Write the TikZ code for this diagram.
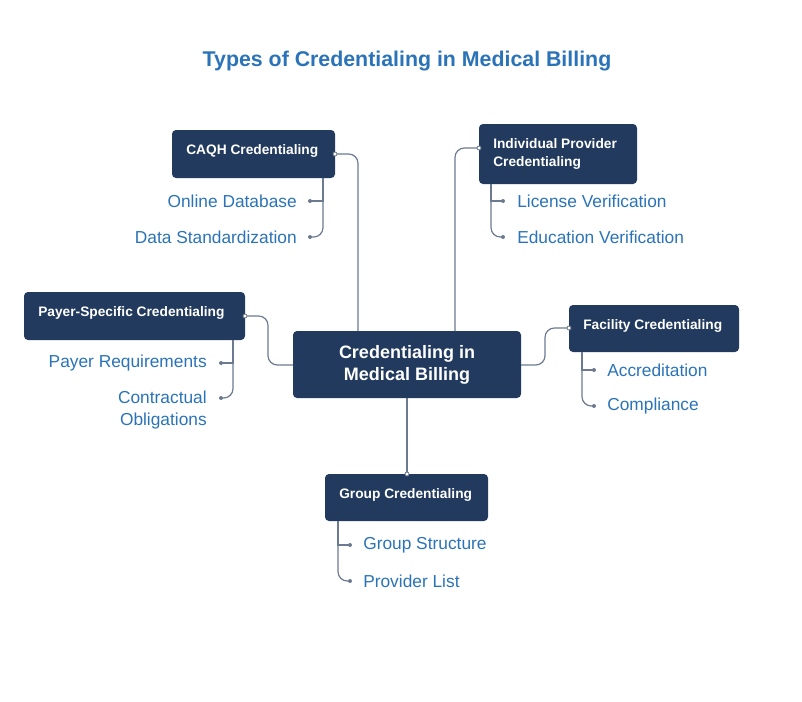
\documentclass[tikz,border=0pt]{standalone}
\usepackage{fontspec}
\setmainfont{Liberation Sans}
\definecolor{box}{HTML}{213A5E}
\definecolor{txt}{HTML}{2A73B8}
\definecolor{ln}{HTML}{6B7A90}
\begin{document}
\begin{tikzpicture}[x=0.75pt,y=-0.75pt,
 bx/.style={fill=box,rounded corners=3pt,text=white,font=\bfseries\fontsize{10.3}{12}\selectfont,align=left,inner sep=0pt},
 lf/.style={text=txt,font=\fontsize{13}{16}\selectfont,inner sep=0pt},
 cn/.style={draw=ln,line width=0.9pt,rounded corners=7pt},
 dt/.style={fill=ln,circle,inner sep=0pt,minimum size=3pt}]
\useasboundingbox (0,0) rectangle (802,701);
\node[text=txt,font=\bfseries\fontsize{16}{18}\selectfont] (t) at (407,61) {Types of Credentialing in Medical Billing};
% boxes
\path[bx] (172,130) rectangle (335,178); \node[bx,anchor=west] (caqh) at (186,151) {CAQH Credentialing};
\path[bx] (479,124) rectangle (637,184); \node[bx,anchor=west,font=\bfseries\fontsize{10.3}{13}\selectfont] (ind) at (493,154) {Individual Provider\\Credentialing};
\path[bx] (24,292) rectangle (245,340); \node[bx,anchor=west] (pay) at (38,313) {Payer-Specific Credentialing};
\path[bx] (293,331) rectangle (521,398); \node[bx,align=center,font=\bfseries\fontsize{13.5}{16.5}\selectfont] (c) at (407,365) {Credentialing in\\Medical Billing};
\path[bx] (569,305) rectangle (739,352); \node[bx,anchor=west] (fac) at (583,326) {Facility Credentialing};
\path[bx] (325,474) rectangle (488,521); \node[bx,anchor=west] (grp) at (339,495) {Group Credentialing};
% main connectors
\coordinate (a1) at (335,154); \coordinate (a2) at (358,331);
\draw[cn] (a1) -| (a2); \node[dt,fill=white,draw=ln,line width=0.6pt] at (a1) {};
\coordinate (b1) at (479,148); \coordinate (b2) at (455,331);
\draw[cn] (b1) -| (b2); \node[dt,fill=white,draw=ln,line width=0.6pt] at (b1) {};
\coordinate (p1) at (245,316); \coordinate (p2) at (293,365);
\draw[cn] (p1) -- (268,316) -- (268,365) -- (p2); \node[dt,fill=white,draw=ln,line width=0.6pt] at (p1) {};
\coordinate (f1) at (521,365); \coordinate (f2) at (569,328);
\draw[cn] (f1) -- (545,365) -- (545,328) -- (f2); \node[dt,fill=white,draw=ln,line width=0.6pt] at (f2) {};
\coordinate (g1) at (407,398); \coordinate (g2) at (407,474);
\draw[cn] (g1) -- (g2); \node[dt,fill=white,draw=ln,line width=0.6pt] at (g2) {};
% leaves CAQH
\node[lf,anchor=east] (l1) at (297,201) {Online Database};
\node[lf,anchor=east] (l2) at (297,237) {Data Standardization};
\draw[cn,rounded corners=0] (323,178) -- (323,201) -- (310,201); \draw[cn] (323,200) -- (323,237) -- (310,237);
\node[dt] at (310,201) {}; \node[dt] at (310,237) {};
% Individual
\node[lf,anchor=west] (l3) at (517,201) {License Verification};
\node[lf,anchor=west] (l4) at (517,237) {Education Verification};
\draw[cn,rounded corners=0] (491,184) -- (491,201) -- (503,201); \draw[cn] (491,200) -- (491,237) -- (503,237);
\node[dt] at (503,201) {}; \node[dt] at (503,237) {};
% Payer
\node[lf,anchor=east] (l5) at (207,363) {Payer Requirements};
\node[lf,anchor=east,align=right,font=\fontsize{13}{16.5}\selectfont] (l6) at (207,410) {Contractual\\Obligations};
\draw[cn,rounded corners=0] (233,340) -- (233,363) -- (221,363); \draw[cn] (233,362) -- (233,398) -- (221,398);
\node[dt] at (221,363) {}; \node[dt] at (221,398) {};
% Facility
\node[lf,anchor=west] (l7) at (607,370) {Accreditation};
\node[lf,anchor=west] (l8) at (607,406) {Compliance};
\draw[cn,rounded corners=0] (582,352) -- (582,370) -- (594,370); \draw[cn] (582,369) -- (582,406) -- (594,406);
\node[dt] at (594,370) {}; \node[dt] at (594,406) {};
% Group
\node[lf,anchor=west] (l9) at (363,545) {Group Structure};
\node[lf,anchor=west] (l10) at (363,581) {Provider List};
\draw[cn,rounded corners=0] (338,521) -- (338,545) -- (350,545); \draw[cn] (338,544) -- (338,581) -- (350,581);
\node[dt] at (350,545) {}; \node[dt] at (350,581) {};
\end{tikzpicture}
\end{document}
